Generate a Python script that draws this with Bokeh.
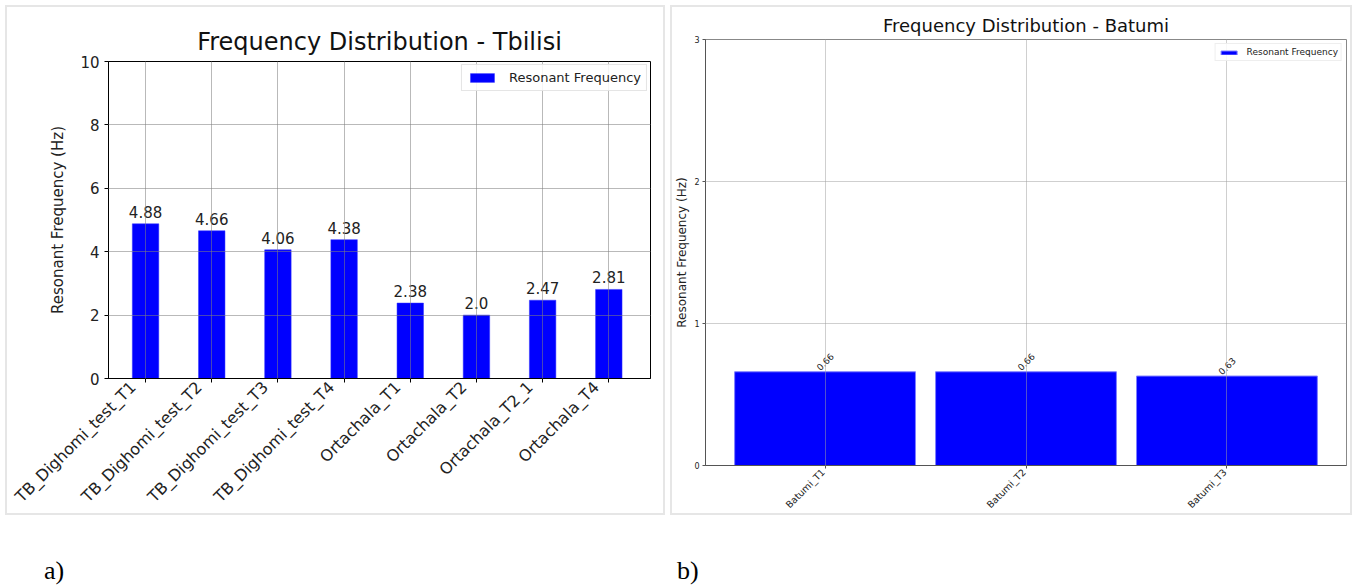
import math
from bokeh.plotting import figure
from bokeh.models import (ColumnDataSource, Range1d, FixedTicker,
                          Legend, LegendItem, Div, Spacer, LinearAxis)
from bokeh.layouts import row, column
from bokeh.embed import file_html
from bokeh.resources import INLINE
from bokeh.core.properties import value

# ---------------- data ----------------
tb_sites = ["TB_Dighomi_test_T1", "TB_Dighomi_test_T2", "TB_Dighomi_test_T3",
            "TB_Dighomi_test_T4", "Ortachala_T1", "Ortachala_T2",
            "Ortachala_T2_1", "Ortachala_T4"]
tb_freq = [4.88, 4.66, 4.06, 4.38, 2.38, 2.0, 2.47, 2.81]
tb_yticks = [0, 2, 4, 6, 8, 10]

bt_sites = ["Batumi_T1", "Batumi_T2", "Batumi_T3"]
bt_freq = [0.66, 0.66, 0.63]
bt_yticks = [0, 1, 2, 3]

series_name = "Resonant Frequency"
ylabel = "Resonant Frequency (Hz)"
title_a = "Frequency Distribution - Tbilisi"
title_b = "Frequency Distribution - Batumi"

FONT = "DejaVu Sans"
PANEL_STYLE = {"border": "2px solid #e6e6e6", "box-sizing": "border-box"}


def label_axis(p, sites, lo, hi, shift, size, standoff):
    """Axis that carries the rotated category names (matplotlib-like anchoring)."""
    n = len(sites)
    p.extra_x_ranges = {"lab": Range1d(lo + shift, hi + shift)}
    ax = LinearAxis(x_range_name="lab", ticker=FixedTicker(ticks=list(range(n))),
                    major_label_overrides={i: s for i, s in enumerate(sites)},
                    major_label_orientation=math.pi / 4,
                    axis_line_color=None, major_tick_line_color=None,
                    minor_tick_line_color=None, major_tick_in=0, major_tick_out=0,
                    major_label_standoff=standoff,
                    major_label_text_font=FONT, major_label_text_font_size=size,
                    major_label_text_color="#222222")
    p.add_layout(ax, "below")


# ---------------- panel a ----------------
tb_pos = list(range(len(tb_sites)))
tb_lo, tb_hi = -0.56, len(tb_sites) - 1 + 0.63
src1 = ColumnDataSource(dict(pos=tb_pos, site=tb_sites, freq=tb_freq,
                             label=[str(round(v, 2)) for v in tb_freq]))
p1 = figure(width=660, height=510,
            x_range=Range1d(tb_lo, tb_hi),
            y_range=Range1d(0, 10),
            output_backend="svg", toolbar_location=None,
            min_border_left=101, min_border_right=17,
            min_border_top=54, min_border_bottom=139)
p1.frame_align = False
p1.styles = PANEL_STYLE
r1 = p1.vbar(x="pos", top="freq", width=0.4, source=src1,
             fill_color="blue", line_color="#3333ff", line_width=0.5)
p1.text(x="pos", y="freq", text="label", source=src1,
        text_align="center", text_baseline="bottom", y_offset=-6,
        text_font=value(FONT), text_font_size="15px", text_color="#222222")

p1.title.text = title_a
p1.title.align = "center"
p1.title.vertical_align = "top"
p1.title.text_font = FONT
p1.title.text_font_size = "24px"
p1.title.text_font_style = "normal"
p1.title.text_color = "#111111"
p1.title.standoff = 8

p1.xaxis.ticker = FixedTicker(ticks=tb_pos)
p1.xgrid.ticker = FixedTicker(ticks=tb_pos)
p1.yaxis.ticker = FixedTicker(ticks=tb_yticks)
p1.yaxis.axis_label = ylabel
for ax in (p1.xaxis[0], p1.yaxis[0]):
    ax.major_label_text_font = FONT
    ax.major_label_text_font_size = "15px"
    ax.major_label_text_color = "#222222"
    ax.axis_label_text_font = FONT
    ax.axis_label_text_font_size = "15px"
    ax.axis_label_text_font_style = "normal"
    ax.axis_label_text_color = "#222222"
    ax.axis_line_color = "black"
    ax.major_tick_line_color = "black"
    ax.major_tick_in = 0
    ax.major_tick_out = 4
    ax.minor_tick_line_color = None
p1.xaxis.major_label_text_font_size = "1px"
p1.xaxis.major_label_text_alpha = 0
p1.xaxis.major_label_standoff = 0
p1.yaxis.axis_label_standoff = 10
label_axis(p1, tb_sites, tb_lo, tb_hi, 0.19, "16px", 2)

for g in (p1.xgrid[0], p1.ygrid[0]):
    g.grid_line_color = "#808080"
    g.grid_line_alpha = 0.55
    g.grid_line_width = 1
    g.level = "guide"
p1.outline_line_color = "black"
p1.outline_line_alpha = 1

leg1 = Legend(items=[LegendItem(label=series_name, renderers=[r1])],
              location="top_right", margin=3, padding=5,
              label_text_font=FONT, label_text_font_size="13px",
              label_text_color="#222222", glyph_width=30, glyph_height=11,
              label_height=14, border_line_color="#cccccc", border_line_width=1,
              background_fill_alpha=0.85, label_standoff=12)
p1.add_layout(leg1)

# ---------------- panel b ----------------
bt_pos = list(range(len(bt_sites)))
bt_lo, bt_hi = -0.595, len(bt_sites) - 1 + 0.595
src2 = ColumnDataSource(dict(pos=bt_pos, site=bt_sites, freq=bt_freq,
                             label=[str(round(v, 2)) for v in bt_freq]))
p2 = figure(width=682, height=510,
            x_range=Range1d(bt_lo, bt_hi),
            y_range=Range1d(0, 3),
            output_backend="svg", toolbar_location=None,
            min_border_left=27, min_border_right=8,
            min_border_top=32, min_border_bottom=52)
p2.frame_align = False
p2.styles = PANEL_STYLE
r2 = p2.vbar(x="pos", top="freq", width=0.9, source=src2,
             fill_color="blue", line_color="#8080ff", line_width=1)
p2.text(x="pos", y="freq", text="label", source=src2, angle=math.pi / 4,
        text_align="center", text_baseline="middle", y_offset=-10,
        text_font=value(FONT), text_font_size="9px", text_color="#222222")

p2.title.text = title_b
p2.title.align = "center"
p2.title.vertical_align = "top"
p2.title.text_font = FONT
p2.title.text_font_size = "18px"
p2.title.text_font_style = "normal"
p2.title.text_color = "#111111"
p2.title.standoff = 4

p2.xaxis.ticker = FixedTicker(ticks=bt_pos)
p2.xgrid.ticker = FixedTicker(ticks=bt_pos)
p2.yaxis.ticker = FixedTicker(ticks=bt_yticks)
p2.yaxis.axis_label = ylabel
for ax in (p2.xaxis[0], p2.yaxis[0]):
    ax.major_label_text_font = FONT
    ax.major_label_text_font_size = "8px"
    ax.major_label_text_color = "#222222"
    ax.axis_label_text_font = FONT
    ax.axis_label_text_font_size = "12px"
    ax.axis_label_text_font_style = "normal"
    ax.axis_label_text_color = "#222222"
    ax.axis_line_color = "#555555"
    ax.major_tick_line_color = "#555555"
    ax.major_tick_in = 0
    ax.major_tick_out = 3
    ax.minor_tick_line_color = None
p2.xaxis.major_label_text_font_size = "1px"
p2.xaxis.major_label_text_alpha = 0
p2.xaxis.major_label_standoff = 0
p2.yaxis.major_label_standoff = 3
p2.yaxis.axis_label_standoff = 2
label_axis(p2, bt_sites, bt_lo, bt_hi, 0.01, "9.5px", 2)

for g in (p2.xgrid[0], p2.ygrid[0]):
    g.grid_line_color = "#a0a0a0"
    g.grid_line_alpha = 0.5
    g.grid_line_width = 1
    g.level = "guide"
p2.outline_line_color = "#888888"
p2.outline_line_alpha = 1

leg2 = Legend(items=[LegendItem(label=series_name, renderers=[r2])],
              location="top_right", margin=4, padding=3,
              label_text_font=FONT, label_text_font_size="9px",
              label_text_color="#222222", glyph_width=20, glyph_height=5,
              label_height=9, border_line_color="#dddddd", border_line_width=1,
              background_fill_alpha=0.85, label_standoff=8)
p2.add_layout(leg2)

# ---------------- captions ----------------
cap_style = {"font-family": "Liberation Serif", "font-size": "26px", "color": "#000"}
div_a = Div(text="a)", width=40, height=32, styles=cap_style)
div_b = Div(text="b)", width=40, height=32, styles=cap_style)

layout = column(
    Spacer(height=5),
    row(Spacer(width=5), p1, Spacer(width=5), p2),
    Spacer(height=32),
    row(Spacer(width=39), div_a, Spacer(width=583), div_b),
)

open("out.html", "w").write(file_html(layout, INLINE))
